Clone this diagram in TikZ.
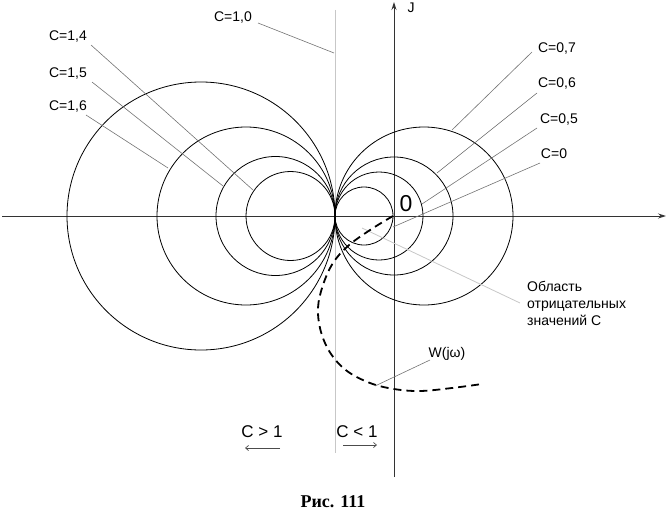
\documentclass[tikz,border=0pt]{standalone}
\usepackage{fontspec}
\setmainfont{Liberation Sans}
\newfontfamily\capfont{Liberation Serif}
\usetikzlibrary{arrows.meta}
\begin{document}
\begin{tikzpicture}[x=1pt,y=-1pt,
  lbl/.style={font=\fontsize{14}{17}\selectfont, inner sep=0pt},
  leader/.style={draw=black!55, line width=0.6pt},
  faint/.style={draw=black!22, line width=0.8pt},
  circ/.style={draw=black, line width=0.8pt},
  axis/.style={draw=black!80, line width=0.9pt, -{Stealth[length=8pt,width=5pt]}},
  small/.style={draw=black!70, line width=0.7pt, -{Straight Barb[length=3pt,width=5pt]}},
  wcurve/.style={draw=black, line width=1.8pt, dash pattern=on 8pt off 5pt},
]
\useasboundingbox (0,0) rectangle (669,527);

% axes
\coordinate (xl) at (2,216);
\coordinate (xr) at (666,216);
\coordinate (yb) at (394,477);
\coordinate (yt) at (394,2);
\draw[axis] (xl) -- (xr);
\draw[axis] (yb) -- (yt);
\node[lbl] (J) at (411,8) {J};
\node[font=\fontsize{23}{25}\selectfont, inner sep=0pt] (zero) at (406,203.5) {0};

% C = 1 line
\coordinate (vt) at (335,10);
\coordinate (vb) at (335,453);
\draw[faint] (vt) -- (vb);

% circles, all tangent at (335,216)
\draw[circ] (201,216) circle[radius=134pt];
\draw[circ] (246,216) circle[radius=89pt];
\draw[circ] (275.5,216) circle[radius=59.5pt];
\draw[circ] (290.5,216) circle[radius=44.5pt];
\draw[circ] (424,216) circle[radius=89pt];
\draw[circ] (394,216) circle[radius=59pt];
\draw[circ] (379,216) circle[radius=44pt];
\draw[circ] (364,216) circle[radius=29pt];

% labels left
\node[lbl] (c10) at (233,18) {C=1,0};
\node[lbl] (c14) at (68,37) {C=1,4};
\node[lbl] (c15) at (68,74) {C=1,5};
\node[lbl] (c16) at (68,107) {C=1,6};
\coordinate (p10a) at (258,23);  \coordinate (p10b) at (334,53);
\coordinate (p14a) at (91,45);   \coordinate (p14b) at (253,190);
\coordinate (p15a) at (92,82);   \coordinate (p15b) at (223,186);
\coordinate (p16a) at (86,115);  \coordinate (p16b) at (168,168);
\draw[leader] (p10a) -- (p10b);
\draw[leader] (p14a) -- (p14b);
\draw[leader] (p15a) -- (p15b);
\draw[leader] (p16a) -- (p16b);

% labels right
\node[lbl] (c07) at (557,49) {C=0,7};
\node[lbl] (c06) at (557,84) {C=0,6};
\node[lbl] (c05) at (559,120) {C=0,5};
\node[lbl] (c00) at (554,154) {C=0};
\coordinate (p07a) at (532,52);  \coordinate (p07b) at (452,130);
\coordinate (p06a) at (537,93);  \coordinate (p06b) at (437,173);
\coordinate (p05a) at (537,128); \coordinate (p05b) at (422,204);
\coordinate (p00a) at (540,163); \coordinate (p00b) at (393,227);
\draw[leader] (p07a) -- (p07b);
\draw[leader] (p06a) -- (p06b);
\draw[leader] (p05a) -- (p05b);
\draw[leader] (p00a) -- (p00b);

% negative region
\node[lbl, anchor=north west, align=left] (neg) at (527,281) {Область\\отрицательных\\значений С};
\coordinate (pna) at (520,303); \coordinate (pnb) at (362,228);
\draw[faint] (pna) -- (pnb);

% W(jw) curve
\draw[wcurve] plot[smooth, tension=0.6] coordinates {(393,216) (370,230) (348,246) (333,263) (323,285) (318,308) (321,332) (331,354) (347,371) (370,383) (394,389) (420,391) (452,388) (482,384)};
\node[lbl] (w) at (447,354) {W(jω)};
\coordinate (pwa) at (430,360); \coordinate (pwb) at (375,386);
\draw[leader] (pwa) -- (pwb);

% C>1, C<1
\node[font=\fontsize{17}{19}\selectfont, inner sep=0pt] (cg) at (262,432) {C > 1};
\node[font=\fontsize{17}{19}\selectfont, inner sep=0pt] (cl) at (357,432) {C < 1};
\coordinate (ag1) at (280,448); \coordinate (ag2) at (245,448);
\coordinate (al1) at (343,445); \coordinate (al2) at (377,445);
\draw[small] (ag1) -- (ag2);
\draw[small] (al1) -- (al2);

% caption
\node[font=\capfont\bfseries\fontsize{18}{20}\selectfont, inner sep=0pt] (cap) at (333,502) {Рис. 111};
\end{tikzpicture}
\end{document}
